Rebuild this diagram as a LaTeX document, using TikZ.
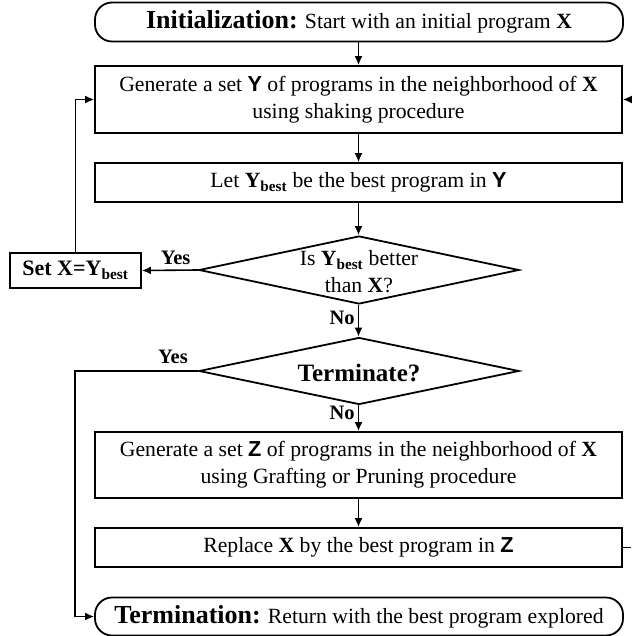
\documentclass[tikz,border=0pt]{standalone}
\usepackage{fontspec}
\setmainfont{Liberation Serif}
\newfontfamily\sansfam{Liberation Sans}
\usetikzlibrary{shapes.geometric,arrows.meta}
\newcommand{\SY}{{\sansfam\bfseries Y}}
\newcommand{\SZ}{{\sansfam\bfseries Z}}
\newcommand{\Ybest}{\textbf{Y}\textsubscript{\textbf{best}}}
\tikzset{
  body/.style={font=\fontsize{21.7}{27}\selectfont},
  box/.style={draw, line width=1.8pt, rectangle, minimum width=527pt, inner sep=0pt, align=center, body},
  term/.style={draw, line width=1.8pt, rectangle, rounded corners=17pt, minimum width=528pt, inner sep=0pt, align=center, body},
  dia/.style={draw, line width=1.8pt, diamond, minimum width=320pt, inner sep=0pt},
  arr/.style={line width=1.6pt, -{Latex[length=9pt,width=8pt]}},
  lbl/.style={font=\fontsize{20.5}{22}\selectfont\bfseries, inner sep=0pt}
}
\begin{document}
\begin{tikzpicture}[x=1pt,y=-1pt]
\useasboundingbox (0,0) rectangle (631,636);
% process steps
\node[term, minimum height=39pt] (init) at (359,22)
  {{\fontsize{26}{28}\selectfont\bfseries Initialization:} Start with an initial program \textbf{X}};
\node[box, minimum height=67pt] (gen) at (358.5,99.5)
  {Generate a set \SY{} of programs in the neighborhood of \textbf{X}\\using shaking procedure};
\node[box, minimum height=39pt] (best) at (358.5,182.5)
  {Let \Ybest{} be the best program in \SY};
\node[dia, minimum height=68pt] (d1) at (359,270) {};
\node[align=center, body, inner sep=0pt] (d1t) at (359,272) {Is \Ybest{} better\\than \textbf{X}?};
\node[draw, line width=1.8pt, minimum width=131pt, minimum height=35pt, inner sep=0pt,
  font=\fontsize{22}{24}\selectfont\bfseries] (set) at (75.5,270.5) {Set X=Y\textsubscript{best}};
\node[dia, minimum height=67pt] (d2) at (359,371) {};
\node[font=\fontsize{25}{28}\selectfont\bfseries, inner sep=0pt] (d2t) at (359,373) {Terminate?};
\node[box, minimum height=66pt] (genz) at (358.5,465)
  {Generate a set \SZ{} of programs in the neighborhood of \textbf{X}\\using Grafting or Pruning procedure};
\node[box, minimum height=39pt] (rep) at (358.5,547.5)
  {Replace \textbf{X} by the best program in \SZ};
\node[term, minimum height=38pt] (fin) at (359,616.5)
  {{\fontsize{26}{28}\selectfont\bfseries Termination:} Return with the best program explored};
% connectors
\draw[arr] (init.south -| gen.north) -- (gen.north);
\draw[arr] (gen.south) -- (best.north);
\draw[arr] (best.south) -- (best.south |- d1.north);
\draw[arr] (d1.west) -- (set.east) node[lbl, pos=0.4, above=5pt] {Yes};
\draw[arr] (set.north) |- (gen.west);
\draw[arr] (d1.south -| best.south) -- (d2.north -| best.south) node[lbl, pos=0.4, left=3pt] {No};
\coordinate (yturn) at (75,371);
\draw[arr] (d2.west) -- (yturn) |- (fin.west);
\node[lbl] (yes2) at (173,357) {Yes};
\draw[arr] (d2.south -| best.south) -- (genz.north) node[lbl, pos=0.3, left=3pt] {No};
\draw[arr] (genz.south) -- (rep.north);
% loop back from the right edge
\coordinate (rout) at (631,547.5);
\coordinate (rin) at (631,99.5);
\draw[line width=1.6pt] (rep.east) -- (rout);
\draw[arr] (rin) -- (gen.east);
\end{tikzpicture}
\end{document}
